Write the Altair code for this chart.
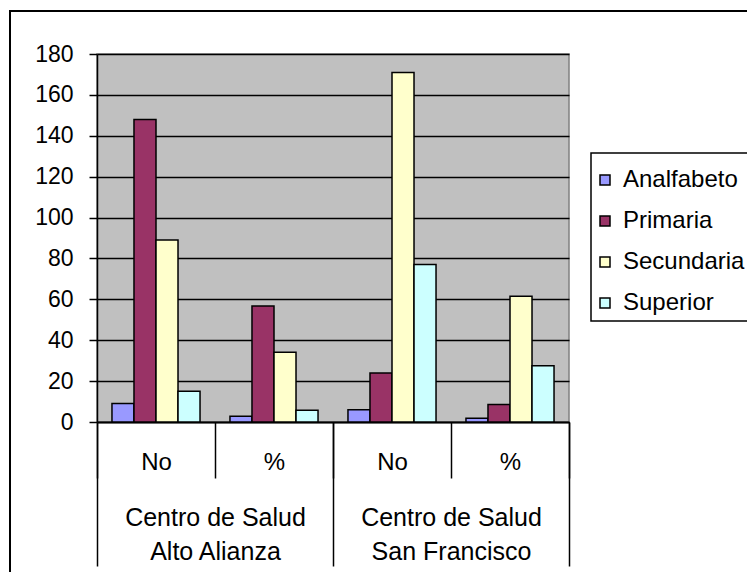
import altair as alt
import pandas as pd

# ---- data ----
centros = ["Centro de Salud|Alto Alianza", "Centro de Salud|Alto Alianza",
           "Centro de Salud|San Francisco", "Centro de Salud|San Francisco"]
medidas = ["No", "%", "No", "%"]
niveles = ["Analfabeto", "Primaria", "Secundaria", "Superior"]
analfabeto = [9, 2.8, 6, 1.8]
primaria = [148, 56.7, 24, 8.6]
secundaria = [89, 34.1, 171, 61.5]
superior = [15, 5.7, 77, 27.5]
colores = ["#9999FF", "#993366", "#FFFFCC", "#CCFFFF"]

keys = [f"{c}#{m}" for c, m in zip(centros, medidas)]
series = [analfabeto, primaria, secundaria, superior]
rows = []
for i, k in enumerate(keys):
    for n, vals in zip(niveles, series):
        rows.append({"key": k, "nivel": n, "valor": vals[i]})
df = pd.DataFrame(rows)
centro_unicos = ["Centro de Salud|Alto Alianza", "Centro de Salud|San Francisco"]
df2 = pd.DataFrame({"centro": centro_unicos})

FONT = "Liberation Sans"

frame = alt.Chart(pd.DataFrame({"a": [0]})).mark_rect(
    fillOpacity=0, stroke="black", strokeWidth=2
).encode(x=alt.value(-87), x2=alt.value(720), y=alt.value(-43), y2=alt.value(620))

legbox = alt.Chart(pd.DataFrame({"a": [0]})).mark_rect(
    fill="white", stroke="black", strokeWidth=1.5
).encode(x=alt.value(494), x2=alt.value(720), y=alt.value(99), y2=alt.value(267))

bars = alt.Chart(df).mark_bar(stroke="black", strokeWidth=1.5).encode(
    x=alt.X("key:N", sort=keys,
            scale=alt.Scale(domain=keys, paddingInner=0, paddingOuter=0),
            axis=alt.Axis(title=None, orient="bottom", labelAngle=0,
                          labelExpr="datum.value ? split(datum.value, '#')[1] : ''",
                          tickBand="extent", tickSize=56, tickColor="black", tickWidth=1.5,
                          domainColor="black", domainWidth=1.5,
                          labelBaseline="middle", labelPadding=-16, labelLimit=400,
                          labelFontSize=24, labelFont=FONT, labelColor="black", grid=False)),
    xOffset=alt.XOffset("nivel:N", sort=niveles,
                        scale=alt.Scale(domain=niveles, paddingOuter=0.68, paddingInner=0)),
    y=alt.Y("valor:Q", scale=alt.Scale(domain=[0, 180], nice=False),
            axis=alt.Axis(title=None, values=list(range(0, 181, 20)),
                          grid=True, gridColor="black", gridWidth=1.3,
                          domainColor="black", domainWidth=1.5,
                          tickColor="black", tickSize=8, tickWidth=1.5,
                          labelPadding=16, labelFontSize=23, labelFont=FONT,
                          labelColor="black")),
    color=alt.Color("nivel:N", sort=niveles,
                    scale=alt.Scale(domain=niveles, range=colores),
                    legend=alt.Legend(title=None, orient="none", legendX=496, legendY=114,
                                      symbolType="square", symbolSize=100,
                                      symbolStrokeColor="black", symbolStrokeWidth=1.5,
                                      symbolOpacity=1, labelLimit=400,
                                      labelFontSize=24, labelFont=FONT, labelColor="black",
                                      labelOffset=6, rowPadding=17)),
)

level2 = alt.Chart(df2).mark_point(opacity=0).encode(
    x=alt.X("centro:N", sort=centro_unicos,
            scale=alt.Scale(domain=centro_unicos, paddingInner=0, paddingOuter=0),
            axis=alt.Axis(title=None, orient="bottom", labelAngle=0,
                          labelExpr="datum.value ? split(datum.value, '|') : ''",
                          tickBand="extent", tickSize=144, tickColor="black", tickWidth=1.5,
                          domainColor="black", domainWidth=1.5,
                          labelBaseline="middle", labelPadding=-49, labelLineHeight=34,
                          labelLimit=400,
                          labelFontSize=25, labelFont=FONT, labelColor="black", grid=False)),
    y=alt.value(0),
)

chart = alt.layer(frame, legbox, bars, level2).resolve_scale(x="independent").properties(
    width=472, height=368,
    autosize=alt.AutoSizeParams(type="none"),
    padding={"left": 89, "top": 46, "right": 178, "bottom": 150},
).configure_view(fill="#C0C0C0", stroke="#808080", strokeWidth=1.5)

chart.save("out.html", embed_options={"renderer": "svg", "actions": False})
